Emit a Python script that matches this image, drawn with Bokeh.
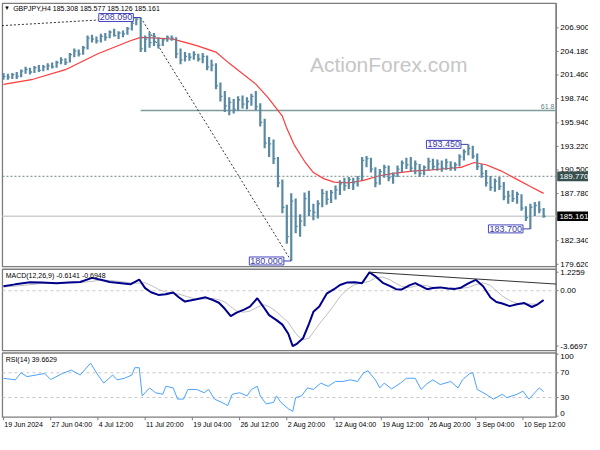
from bokeh.plotting import figure
from bokeh.models import Range1d, Label
from bokeh.embed import file_html
from bokeh.resources import INLINE
from bokeh.core.properties import value

# ---------------- data ----------------
symbol_title = "GBPJPY,H4  185.308 185.577 185.126 185.161"
macd_title = "MACD(12,26,9) -0.6141 -0.6948"
rsi_title = "RSI(14) 39.6629"
watermark = "ActionForex.com"

# H4 bar index of each drawn price bar (one drawn bar per three H4 bars)
bar_idx = list(range(0, 367, 3))
bar_high = [201.7, 201.6, 201.7, 201.8, 202.1, 202.4, 202.3, 202.5, 202.6, 202.6,
            202.8, 202.9, 203.1, 203.5, 203.4, 204.0, 204.5, 204.4, 204.8, 206.0,
            206.1, 205.9, 206.2, 206.3, 206.6, 206.8, 206.5, 206.6, 207.0, 207.6,
            208.0, 208.09, 206.0, 206.4, 206.3, 205.8, 205.7, 206.0, 206.0, 205.8,
            204.5, 204.1, 204.0, 204.2, 203.9, 204.0, 203.7, 203.2, 202.8, 200.6,
            199.6, 198.9, 198.7, 199.0, 199.1, 198.9, 199.3, 199.6, 198.2, 196.4,
            194.3, 194.0, 192.0, 189.4, 186.5, 187.8, 187.2, 185.4, 187.9, 188.1,
            186.6, 187.0, 188.3, 188.1, 188.2, 188.7, 189.3, 189.6, 189.7, 189.6,
            189.8, 192.0, 192.1, 191.9, 190.8, 190.6, 191.1, 191.0, 190.2, 191.0,
            191.6, 191.9, 192.0, 191.6, 191.2, 191.0, 191.9, 191.8, 191.7, 191.6,
            191.8, 191.5, 191.4, 192.3, 192.9, 193.45, 193.3, 192.4, 191.2, 190.5,
            189.8, 189.5, 189.7, 189.1, 188.1, 188.2, 188.0, 187.7, 186.3, 186.6,
            186.8, 186.9, 186.1]
bar_low = [200.9, 200.9, 201.0, 201.0, 201.2, 201.6, 201.5, 201.7, 201.8, 201.9,
           202.0, 202.2, 202.3, 202.7, 202.6, 202.9, 203.5, 203.6, 203.8, 204.4,
           205.2, 205.1, 205.2, 205.4, 205.7, 205.9, 205.6, 205.8, 206.1, 206.6,
           207.2, 204.1, 204.1, 204.6, 204.8, 204.5, 204.8, 205.3, 205.4, 203.4,
           202.7, 203.0, 203.1, 203.2, 203.0, 202.8, 202.0, 201.9, 199.8, 198.4,
           197.2, 196.8, 197.0, 197.3, 197.6, 197.5, 197.9, 197.4, 195.5, 193.0,
           192.0, 191.2, 188.5, 185.5, 182.0, 180.0, 183.2, 182.8, 184.0, 185.2,
           184.7, 184.9, 186.2, 186.5, 186.7, 187.1, 187.6, 188.1, 188.3, 188.2,
           188.6, 189.3, 190.8, 190.2, 188.5, 188.8, 189.6, 189.2, 188.9, 189.7,
           190.2, 190.6, 190.3, 190.0, 189.7, 189.9, 190.4, 190.5, 190.4, 190.3,
           190.5, 190.4, 190.4, 190.9, 191.6, 192.2, 191.8, 190.5, 189.6, 188.6,
           188.1, 188.0, 188.2, 187.0, 186.6, 186.8, 186.6, 185.8, 184.6, 183.7,
           185.2, 185.5, 185.0]
bar_close = [201.3, 201.2, 201.5, 201.3, 201.9, 202.1, 201.8, 202.3, 202.0, 202.4,
             202.5, 202.4, 202.9, 203.2, 202.9, 203.8, 204.2, 203.9, 204.6, 205.7,
             205.6, 205.4, 205.9, 205.8, 206.4, 206.0, 206.3, 206.2, 206.8, 207.4,
             207.9, 204.5, 205.6, 205.2, 205.9, 204.9, 205.5, 205.8, 205.7, 203.9,
             203.2, 203.6, 203.5, 203.8, 203.3, 203.6, 202.4, 202.6, 200.2, 199.0,
             197.9, 198.3, 197.5, 198.6, 198.1, 198.4, 199.0, 197.8, 196.0, 193.6,
             193.5, 191.8, 189.0, 186.2, 182.8, 186.9, 184.0, 184.6, 187.2, 185.8,
             185.6, 186.6, 187.8, 187.1, 187.9, 188.2, 188.9, 188.7, 189.4, 189.0,
             189.5, 191.6, 191.8, 190.6, 189.0, 190.3, 190.8, 189.6, 189.9, 190.6,
             191.3, 191.1, 190.7, 191.2, 190.1, 190.8, 191.5, 190.9, 191.2, 190.7,
             191.4, 190.8, 191.1, 192.0, 192.6, 193.0, 192.1, 190.9, 190.1, 189.0,
             188.5, 189.2, 188.6, 187.4, 187.5, 187.2, 187.7, 186.1, 185.0, 186.2,
             186.4, 185.9, 185.161]

# moving average (red)
ma_idx = [0, 20, 42, 64, 86, 93, 104, 115, 131, 144, 153, 171, 179, 189, 192, 197,
          204, 210, 217, 224, 234, 244, 254, 264, 277, 290, 303, 310, 319, 327, 337,
          347, 357, 366]
ma_val = [200.37, 200.96, 202.07, 203.9, 205.4, 205.8, 205.7, 205.6, 204.85, 204.1,
          202.8, 200.4, 198.9, 196.7, 195.3, 193.4, 191.5, 190.2, 189.5, 189.1, 189.0,
          189.3, 189.8, 190.1, 190.36, 190.5, 190.7, 190.8, 191.36, 191.1, 190.4, 189.5,
          188.6, 187.8]

# MACD main and signal
macd_idx = [0, 8, 18, 26, 36, 44, 52, 60, 66, 72, 80, 86, 92, 96, 100, 105, 110, 115,
            119, 123, 130, 137, 142, 146, 150, 154, 158, 163, 167, 172, 176, 180, 185,
            189, 193, 196, 199, 203, 207, 210, 214, 219, 224, 228, 233, 238, 243, 248,
            252, 257, 262, 266, 270, 275, 279, 283, 287, 291, 296, 301, 306, 310, 315,
            320, 325, 330, 334, 338, 343, 348, 353, 358, 362, 366]
macd_val = [0.30, 0.42, 0.56, 0.55, 0.50, 0.55, 0.58, 0.85, 0.72, 0.58, 0.50, 0.42,
            0.74, 0.17, -0.10, -0.28, -0.24, -0.12, -0.45, -0.72, -0.58, -0.44, -0.62,
            -0.80, -1.20, -1.68, -1.45, -1.25, -1.05, -0.50, -1.05, -1.62, -1.95, -2.25,
            -2.85, -3.6697, -3.50, -3.15, -2.20, -1.40, -1.05, -0.20, 0.10, 0.38, 0.55,
            0.56, 0.50, 1.2259, 0.95, 0.52, 0.30, 0.10, 0.08, 0.35, 0.50, 0.30, 0.10,
            0.18, 0.22, 0.15, 0.12, 0.20, 0.48, 0.72, 0.30, -0.45, -0.75, -0.85, -1.02,
            -0.90, -0.82, -1.08, -0.90, -0.6141]
signal_val = [0.25, 0.30, 0.40, 0.48, 0.52, 0.52, 0.54, 0.62, 0.70, 0.68, 0.60, 0.52,
              0.50, 0.52, 0.35, 0.10, -0.10, -0.18, -0.22, -0.35, -0.55, -0.55, -0.52,
              -0.60, -0.75, -1.05, -1.35, -1.42, -1.35, -1.10, -0.92, -1.05, -1.40, -1.75,
              -2.10, -2.55, -2.95, -3.25, -3.15, -2.75, -2.20, -1.60, -0.95, -0.40, 0.10,
              0.40, 0.52, 0.62, 0.85, 0.90, 0.72, 0.48, 0.28, 0.20, 0.30, 0.38, 0.32,
              0.22, 0.18, 0.18, 0.16, 0.15, 0.22, 0.40, 0.52, 0.35, 0.00, -0.35, -0.65,
              -0.85, -0.88, -0.88, -0.90, -0.6948]

# RSI(14)
rsi_idx = [0, 8, 12, 16, 28, 32, 40, 46, 52, 59, 64, 68, 74, 77, 82, 87, 89, 92, 94,
           99, 103, 108, 110, 115, 118, 122, 125, 131, 136, 139, 143, 148, 152, 155,
           160, 165, 168, 172, 174, 178, 183, 185, 188, 193, 196, 198, 202, 206, 210,
           215, 220, 225, 230, 235, 240, 244, 247, 252, 255, 258, 263, 269, 273, 279,
           283, 287, 291, 296, 303, 308, 311, 316, 318, 321, 327, 332, 338, 341, 348,
           352, 356, 360, 363, 366]
rsi_val = [61.1, 58.6, 70.0, 63.8, 68.9, 59.1, 68.9, 74.2, 66.4, 85.5, 66.4, 53.3,
           66.4, 58.6, 61.1, 66.4, 78.2, 78.2, 32.7, 45.6, 37.8, 35.3, 48.2, 45.6, 27.5,
           27.5, 43.1, 43.1, 37.8, 43.1, 27.5, 22.2, 17.1, 35.3, 37.8, 32.7, 43.1, 48.2,
           32.7, 19.8, 22.2, 32.7, 22.2, 12.0, 7.8, 30.0, 32.7, 45.6, 43.1, 53.3, 48.2,
           56.0, 56.0, 58.6, 56.0, 70.0, 73.1, 58.6, 45.6, 53.3, 44.0, 53.3, 61.1, 61.1,
           43.1, 52.4, 58.6, 50.9, 56.0, 45.6, 58.6, 68.9, 70.0, 43.1, 35.3, 27.5, 35.3,
           30.0, 35.3, 40.4, 27.5, 37.8, 45.6, 39.66]

price_ticks = [206.900, 204.180, 201.460, 198.740, 195.940, 193.220, 190.500,
               187.780, 182.340, 179.620]
macd_ticks = [1.2259, 0.0, -3.6697]
macd_tick_text = ["1.2259", "0.00", "-3.6697"]
rsi_ticks = [100, 70, 30, 0]
rsi_levels = [70, 30]

date_idx = [0, 32, 64, 96, 128, 160, 192, 224, 256, 288, 320, 352]
date_text = ["19 Jun 2024", "27 Jun 04:00", "4 Jul 12:00", "11 Jul 20:00",
             "19 Jul 04:00", "26 Jul 12:00", "2 Aug 20:00", "12 Aug 04:00",
             "19 Aug 12:00", "26 Aug 20:00", "3 Sep 04:00", "10 Sep 12:00"]

swing_idx = [93, 315, 357, 195]
swing_val = [208.090, 193.450, 183.700, 180.000]
swing_text = ["208.090", "193.450", "183.700", "180.000"]

prior_trend_start = (-1, 207.15)   # dotted trend line into the high
fib_high_idx, fib_high = 93, 208.090
fib_low_idx, fib_low = 195, 180.000
fib_618 = 197.36
resist_level = 189.770
last_price = 185.161
axis_boxes = [(resist_level, "#36504f"), (last_price, "#000000")]
macd_trend = [(248, 1.2259), (374.5, 0.44)]

# ---------------- layout constants ----------------
X_CANVAS = (-1.99, 396.4)          # whole canvas in bar-index units
X_LEFT, X_EDGE = -0.66, 374.5      # chart frame left border / right axis line
PRICE_RANGE = (159.98, 210.05)
MACD_RANGE = (-9.527, 19.227)
RSI_RANGE = (-29.55, 670.3)
PRICE_PANEL = (179.34, 209.716)
MACD_PANEL = (-3.97, 1.42)
RSI_PANEL = (-1.56, 101.9)
AXIS_SPAN = (161.985, 209.716)     # right axis line, top to bottom, price units
BOX_HALF = 0.56                    # half height of price-axis boxes, price units
TICK = 1.6
LABEL_X = X_EDGE + 2.8

FONT = "Liberation Sans"
GRAY = "#7c7c7c"

p = figure(width=588, height=434, x_range=Range1d(*X_CANVAS),
           y_range=Range1d(*PRICE_RANGE), x_axis_location=None, y_axis_location=None,
           output_backend="svg", toolbar_location=None,
           min_border_left=0, min_border_right=0, min_border_top=0,
           min_border_bottom=0)
p.extra_y_ranges = {"macd": Range1d(*MACD_RANGE), "rsi": Range1d(*RSI_RANGE)}
p.xgrid.visible = False
p.ygrid.visible = False
p.outline_line_color = None
p.background_fill_color = "white"
p.border_fill_color = "white"


def txt(x, y, text, rng="default", size="8px", align="left", base="middle",
        color="#000000"):
    p.text(x=x, y=y, text=text, y_range_name=rng, text_font=value(FONT),
           text_font_size=size, text_align=align, text_baseline=base,
           text_color=color)


# panel frames
for (lo, hi), rng in [(PRICE_PANEL, "default"), (MACD_PANEL, "macd"),
                      (RSI_PANEL, "rsi")]:
    p.quad(left=[X_LEFT], right=[X_EDGE], bottom=[lo], top=[hi], y_range_name=rng,
           fill_color=None, line_color=GRAY, line_width=1.3)
p.segment(x0=[X_EDGE], y0=[AXIS_SPAN[0]], x1=[X_EDGE], y1=[AXIS_SPAN[1]],
          line_color=GRAY, line_width=1.3)

# watermark
p.add_layout(Label(x=261, y=202.7, text=watermark, text_align="center",
                   text_baseline="middle", text_font=FONT, text_font_size="21px",
                   text_color="#c6c6c6"))

# horizontal levels
p.segment(x0=[X_LEFT], y0=[last_price], x1=[X_EDGE], y1=[last_price],
          line_color="#cfcfcf", line_width=1.5)
p.segment(x0=[X_LEFT], y0=[resist_level], x1=[X_EDGE], y1=[resist_level],
          line_color="#6f8585", line_width=1, line_dash="2 2")
p.segment(x0=[fib_high_idx], y0=[fib_618], x1=[X_EDGE], y1=[fib_618],
          line_color="#7f9b9b", line_width=1.5)
txt([X_EDGE - 1.2], [fib_618 + 0.15], ["61.8"], size="7px", align="right",
    base="bottom", color="#5f7f7f")

# dotted trend lines
p.line(x=[prior_trend_start[0], fib_high_idx], y=[prior_trend_start[1], fib_high],
       line_color="#333333", line_width=1, line_dash="2 2")
p.line(x=[fib_high_idx, fib_low_idx], y=[fib_high, fib_low],
       line_color="#333333", line_width=1, line_dash="2 2")

# moving average
p.line(x=ma_idx, y=ma_val, line_color="#ff3b3b", line_width=1.2)

# OHLC bars
p.segment(x0=bar_idx, y0=bar_low, x1=bar_idx, y1=bar_high,
          line_color="#5a8aa3", line_width=2.2)
p.segment(x0=bar_idx, y0=bar_close, x1=[i + 1.4 for i in bar_idx], y1=bar_close,
          line_color="#5a8aa3", line_width=1.3)

# swing labels with connectors
for i, v, t in zip(swing_idx, swing_val, swing_text):
    p.segment(x0=[i - 5], y0=[v], x1=[i], y1=[v], line_color="#3f3fb0", line_width=1)
    p.add_layout(Label(x=i - 5, y=v, text=t, text_align="right",
                       text_baseline="middle", text_font=FONT, text_font_size="9px",
                       text_color="#3a3aa6", background_fill_color="white",
                       border_line_color="#4646c0", border_line_width=1, padding=1))

# price axis: ticks and labels
p.segment(x0=[X_EDGE] * len(price_ticks), y0=price_ticks,
          x1=[X_EDGE + TICK] * len(price_ticks), y1=price_ticks,
          line_color=GRAY, line_width=1)
txt([LABEL_X] * len(price_ticks), price_ticks, [f"{t:.3f}" for t in price_ticks])

# price-axis boxes (current price, resistance level)
for lvl, col in axis_boxes:
    p.quad(left=[X_EDGE + 0.7], right=[X_CANVAS[1]], bottom=[lvl - BOX_HALF],
           top=[lvl + BOX_HALF], fill_color=col, line_color=None)
    txt([LABEL_X - 0.6], [lvl], [f"{lvl:.3f}"], color="white")

# titles
txt([0.4], [209.16], ["\u25BC"], size="6px")
txt([6.6], [209.16], [symbol_title], size="7px")

# ---- MACD ----
p.segment(x0=[X_LEFT], y0=[0], x1=[X_EDGE], y1=[0], y_range_name="macd",
          line_color="#c8c8c8", line_width=1, line_dash="3 3")
p.line(x=macd_idx, y=signal_val, y_range_name="macd", line_color="#c0c0c0",
       line_width=1)
p.line(x=macd_idx, y=macd_val, y_range_name="macd", line_color="#00008b",
       line_width=2)
p.line(x=[macd_trend[0][0], macd_trend[1][0]], y=[macd_trend[0][1], macd_trend[1][1]],
       y_range_name="macd", line_color="#333333", line_width=1)
txt([1.5], [1.02], [macd_title], rng="macd", size="7px")
p.segment(x0=[X_EDGE] * 3, y0=macd_ticks, x1=[X_EDGE + TICK] * 3, y1=macd_ticks,
          y_range_name="macd", line_color=GRAY, line_width=1)
txt([LABEL_X] * 3, macd_ticks, macd_tick_text, rng="macd")

# ---- RSI ----
for lv in rsi_levels:
    p.segment(x0=[X_LEFT], y0=[lv], x1=[X_EDGE], y1=[lv], y_range_name="rsi",
              line_color="#c8c8c8", line_width=1, line_dash="3 3")
p.line(x=rsi_idx, y=rsi_val, y_range_name="rsi", line_color="#4aa3ff", line_width=1)
txt([1.5], [91.8], [rsi_title], rng="rsi", size="7px")
p.segment(x0=[X_EDGE] * 4, y0=rsi_ticks, x1=[X_EDGE + TICK] * 4, y1=rsi_ticks,
          y_range_name="rsi", line_color=GRAY, line_width=1)
for v in rsi_ticks:
    base = "top" if v == 100 else ("bottom" if v == 0 else "middle")
    txt([LABEL_X], [v], [str(v)], rng="rsi", base=base)

# time axis: ticks and labels
p.segment(x0=date_idx, y0=[RSI_PANEL[0]] * len(date_idx), x1=date_idx,
          y1=[RSI_PANEL[0] - 5] * len(date_idx), y_range_name="rsi",
          line_color=GRAY, line_width=1)
txt([i + 0.6 for i in date_idx], [-14] * len(date_idx), date_text, rng="rsi",
    size="7px")

open("out.html", "w").write(file_html(p, INLINE))
